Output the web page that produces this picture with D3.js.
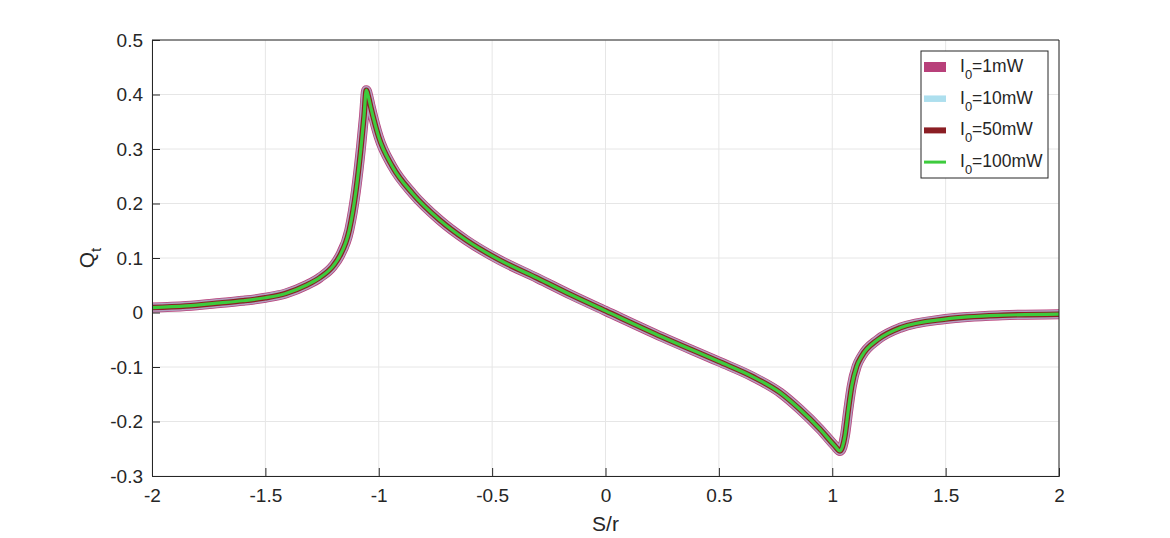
<!DOCTYPE html>
<html>
<head>
<meta charset="utf-8">
<script src="https://cdn.jsdelivr.net/npm/d3@7"></script>
<style>
  body { margin: 0; background: #fff; }
  svg { font-family: "Liberation Sans", Arial, sans-serif; }
</style>
</head>
<body>
<div id="chart"></div>
<script>
// S/r sample points
const sValues = [-2, -1.85, -1.7, -1.6, -1.5, -1.41, -1.32, -1.26, -1.2, -1.173, -1.13, -1.1, -1.078, -1.065,
  -1.055, -1.045, -1.034, -1.0, -0.94, -0.85, -0.732, -0.615, -0.468, -0.3, -0.15, 0,
  0.25, 0.5, 0.65, 0.77, 0.858, 0.946, 1.012, 1.034, 1.056, 1.071, 1.086, 1.108, 1.13,
  1.2, 1.3, 1.5, 1.75, 2];
// Q_t, the four powers overlap on the same curve
const qt1mW = [0.009, 0.012, 0.0175, 0.0215, 0.027, 0.035, 0.05, 0.064, 0.086, 0.103, 0.151, 0.225, 0.304, 0.36,
  0.408, 0.395, 0.375, 0.322, 0.268, 0.218, 0.170, 0.133, 0.0965, 0.063, 0.032, 0.003,
  -0.045, -0.09, -0.118, -0.147, -0.178, -0.214, -0.245, -0.254, -0.226, -0.178, -0.135, -0.0985, -0.08,
  -0.05, -0.028, -0.012, -0.005, -0.003];
const qt10mW = qt1mW.slice();
const qt50mW = qt1mW.slice();
const qt100mW = qt1mW.slice();

const seriesNames = ['1mW', '10mW', '50mW', '100mW'];
const seriesValues = [qt1mW, qt10mW, qt50mW, qt100mW];
const seriesColors = ['#B8407A', '#ADDFEE', '#8B1E24', '#3DCB3D'];
const seriesWidths = [10, 8.5, 5.5, 3.2];
const seriesOpacity = [1, 0.6, 1, 1];

const xTicks = [-2, -1.5, -1, -0.5, 0, 0.5, 1, 1.5, 2];
const yTicks = [-0.3, -0.2, -0.1, 0, 0.1, 0.2, 0.3, 0.4, 0.5];

const W = 1170, H = 538;
let margin = {top: 40, right: 111, bottom: 62, left: 152};
let width = W - margin.left - margin.right;
let height = H - margin.top - margin.bottom;

let xScale = d3.scaleLinear().domain([-2, 2]).range([0, width]);
let yScale = d3.scaleLinear().domain([-0.3, 0.5]).range([height, 0]);

let root = d3.select('#chart').append('svg')
  .attr('width', W).attr('height', H);
root.append('defs').append('clipPath').attr('id', 'plotArea')
  .append('rect').attr('width', width).attr('height', height);
let svg = root.append('g')
  .attr('transform', 'translate(' + margin.left + ',' + margin.top + ')');

// grid
svg.append('g').selectAll('line').data(xTicks).enter().append('line')
  .attr('x1', d => xScale(d)).attr('x2', d => xScale(d))
  .attr('y1', 0).attr('y2', height)
  .attr('stroke', '#e6e6e6');
svg.append('g').selectAll('line').data(yTicks).enter().append('line')
  .attr('y1', d => yScale(d)).attr('y2', d => yScale(d))
  .attr('x1', 0).attr('x2', width)
  .attr('stroke', '#e6e6e6');

// curves
let line = d3.line()
  .x((d, i) => xScale(sValues[i]))
  .y(d => yScale(d))
  .curve(d3.curveMonotoneX);

svg.append('g').attr('clip-path', 'url(#plotArea)')
  .selectAll('path').data(seriesValues).enter().append('path')
  .attr('d', d => line(d))
  .attr('fill', 'none')
  .attr('stroke', (d, i) => seriesColors[i])
  .attr('stroke-width', (d, i) => seriesWidths[i])
  .attr('stroke-opacity', (d, i) => seriesOpacity[i])
  .attr('stroke-linejoin', 'round');

// axes (ticks pointing inside, MATLAB style)
let xAxis = d3.axisBottom(xScale).tickValues(xTicks).tickSize(-8).tickPadding(13)
  .tickFormat(d => String(d));
let yAxis = d3.axisLeft(yScale).tickValues(yTicks).tickSize(-8).tickPadding(9)
  .tickFormat(d => String(d));

let gx = svg.append('g').attr('transform', 'translate(0,' + height + ')').call(xAxis);
let gy = svg.append('g').call(yAxis);
[gx, gy].forEach(function(g) {
  g.select('.domain').attr('stroke', '#262626');
  g.selectAll('.tick line').attr('stroke', '#262626');
  g.selectAll('text').attr('fill', '#262626').style('font-size', '19px')
    .style('font-family', '"Liberation Sans", Arial, sans-serif');
});
gx.selectAll('text').attr('dy', '0.71em');

// top and right border
svg.append('line').attr('x1', 0).attr('x2', width).attr('y1', 0).attr('y2', 0).attr('stroke', '#262626');
svg.append('line').attr('x1', width).attr('x2', width).attr('y1', 0).attr('y2', height).attr('stroke', '#262626');

// axis labels
svg.append('text')
  .attr('x', width / 2).attr('y', height + 55)
  .attr('text-anchor', 'middle')
  .style('font-size', '21px').attr('fill', '#262626')
  .text('S/r');

let yl = svg.append('text')
  .attr('transform', 'translate(-58,' + (height / 2) + ')rotate(-90)')
  .attr('text-anchor', 'middle')
  .style('font-size', '21px').attr('fill', '#262626');
yl.append('tspan').text('Q');
yl.append('tspan').attr('dy', 7).style('font-size', '15px').text('t');

// legend
let lg = svg.append('g').attr('transform', 'translate(' + (width - 138) + ',11)');
lg.append('rect').attr('width', 127).attr('height', 127)
  .attr('fill', '#fff').attr('stroke', '#262626');
let rows = lg.selectAll('g.row').data(seriesNames).enter().append('g')
  .attr('class', 'row')
  .attr('transform', (d, i) => 'translate(0,' + (16 + i * 31.7) + ')');
rows.append('line')
  .attr('x1', 3).attr('x2', 25)
  .attr('stroke', (d, i) => seriesColors[i])
  .attr('stroke-width', (d, i) => [10, 6.5, 6, 3][i]);
let lt = rows.append('text').attr('x', 39).attr('y', 5)
  .style('font-size', '17.5px').attr('fill', '#262626');
lt.append('tspan').text('I');
lt.append('tspan').attr('dy', 7).style('font-size', '13px').text('0');
lt.append('tspan').attr('dy', -7).text(d => '=' + d);
</script>
</body>
</html>
